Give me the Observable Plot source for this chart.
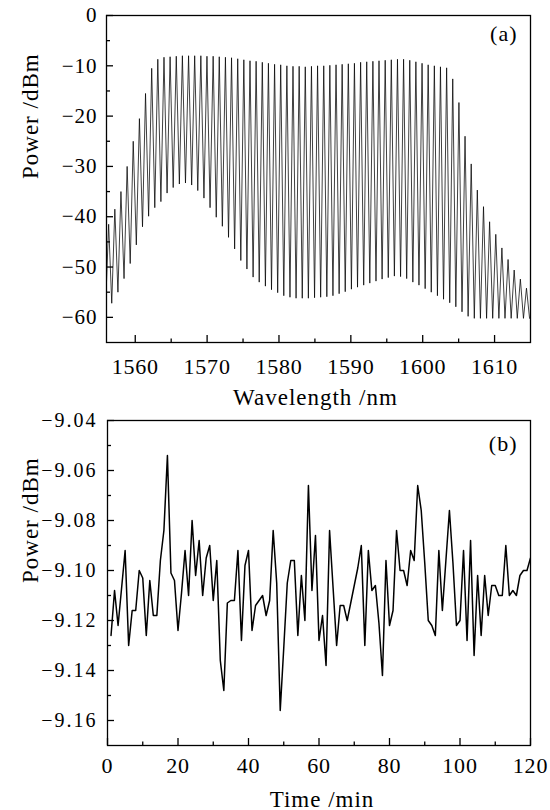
<!DOCTYPE html>
<html><head><meta charset="utf-8">
<script src="https://cdn.jsdelivr.net/npm/d3@7"></script>
<script src="https://cdn.jsdelivr.net/npm/@observablehq/plot@0.6"></script>
<style>
html,body{margin:0;padding:0;background:#fff;}
#chart{width:550px;height:810px;overflow:hidden;}
#chart svg{display:block;overflow:visible;}
</style></head><body><div id="chart"></div>
<script>
// ---------- Panel (a): comb spectrum ----------
const peakWl = [1556.30,1557.16,1558.01,1558.87,1559.72,1560.58,1561.43,1562.29,1563.14,1564.00,
  1564.85,1565.71,1566.56,1567.42,1568.27,1569.13,1569.98,1570.84,1571.69,1572.55,
  1573.40,1574.26,1575.11,1575.97,1576.82,1577.68,1578.53,1579.39,1580.24,1581.10,
  1581.95,1582.81,1583.66,1584.52,1585.37,1586.23,1587.08,1587.94,1588.79,1589.65,
  1590.50,1591.36,1592.21,1593.07,1593.92,1594.78,1595.63,1596.49,1597.34,1598.20,
  1599.05,1599.91,1600.76,1601.62,1602.47,1603.33,1604.18,1605.04,1605.89,1606.75,
  1607.60,1608.46,1609.31,1610.17,1611.02,1611.88,1612.73,1613.59,1614.44];
const peakDb = [-41.5,-38.5,-35,-30,-25,-20.5,-15.5,-10.5,-8.7,-8.3,
  -8.2,-8.1,-8.0,-8.0,-8.0,-8.0,-8.1,-8.1,-8.2,-8.3,
  -8.4,-8.6,-8.8,-9.0,-9.1,-9.3,-9.5,-9.7,-9.8,-10.0,
  -10.1,-10.1,-10.2,-10.1,-10.0,-10.0,-9.9,-9.8,-9.7,-9.6,
  -9.5,-9.3,-9.2,-9.1,-9.0,-8.9,-8.8,-8.7,-8.7,-8.9,
  -9.2,-9.5,-9.8,-10.0,-10.2,-10.4,-12.6,-17.3,-24,-29.5,
  -34.7,-38,-41,-43.5,-46.2,-48.5,-50.6,-52.4,-54.2];
const troughWl = [1555.87,1556.73,1557.59,1558.44,1559.30,1560.15,1561.01,1561.86,1562.72,1563.57,
  1564.43,1565.28,1566.14,1566.99,1567.85,1568.70,1569.56,1570.41,1571.27,1572.12,
  1572.98,1573.83,1574.69,1575.54,1576.40,1577.25,1578.11,1578.96,1579.82,1580.67,
  1581.53,1582.38,1583.24,1584.09,1584.95,1585.80,1586.66,1587.51,1588.37,1589.22,
  1590.08,1590.93,1591.79,1592.64,1593.50,1594.35,1595.21,1596.06,1596.92,1597.77,
  1598.63,1599.48,1600.34,1601.19,1602.05,1602.90,1603.76,1604.61,1605.47,1606.32,
  1607.18,1608.03,1608.89,1609.74,1610.60,1611.45,1612.31,1613.16,1614.02,1614.87];
const troughDb = [-58,-57.2,-55.0,-52.3,-49.3,-45.6,-42.0,-39.9,-38.2,-37.0,
  -35.3,-34.2,-33.5,-33.3,-33.7,-34.8,-36.3,-38.2,-40.1,-41.9,
  -44.1,-46.4,-48.7,-50.4,-52.0,-53.0,-53.8,-54.5,-55.1,-55.7,
  -56.0,-56.2,-56.2,-56.2,-56.1,-56.0,-55.9,-55.7,-55.3,-54.9,
  -54.4,-54.0,-53.6,-53.2,-52.8,-52.4,-52.1,-51.8,-51.9,-52.3,
  -53.0,-53.6,-54.3,-55.0,-55.7,-56.4,-57.1,-57.9,-58.9,-59.8,
  -60.2,-60.2,-60.2,-60.2,-60.2,-60.2,-60.2,-60.2,-60.2,-60.2];
const xMajorA = [1560,1570,1580,1590,1600,1610];
const xMinorA = [1565,1575,1585,1595,1605];
const yMajorA = [0,-10,-20,-30,-40,-50,-60];
const yMinorA = [-5,-15,-25,-35,-45,-55];

// ---------- Panel (b): power stability ----------
const timeMin = [1,2,3,4,5,6,7,8,9,10,11,12,13,14,15,16,17,18,19,20,
  21,22,23,24,25,26,27,28,29,30,31,32,33,34,35,36,37,38,39,40,
  41,42,43,44,45,46,47,48,49,50,51,52,53,54,55,56,57,58,59,60,
  61,62,63,64,65,66,67,68,69,70,71,72,73,74,75,76,77,78,79,80,
  81,82,83,84,85,86,87,88,89,90,91,92,93,94,95,96,97,98,99,100,
  101,102,103,104,105,106,107,108,109,110,111,112,113,114,115,116,117,118,119,120];
const powerB = [-9.126,-9.108,-9.122,-9.107,-9.092,-9.130,-9.116,-9.116,-9.100,-9.103,
  -9.126,-9.104,-9.118,-9.118,-9.096,-9.084,-9.054,-9.101,-9.104,-9.124,
  -9.109,-9.092,-9.110,-9.080,-9.102,-9.088,-9.110,-9.095,-9.090,-9.112,
  -9.096,-9.136,-9.148,-9.113,-9.112,-9.112,-9.092,-9.128,-9.098,-9.092,
  -9.124,-9.114,-9.112,-9.110,-9.118,-9.112,-9.084,-9.105,-9.156,-9.131,
  -9.105,-9.096,-9.096,-9.126,-9.102,-9.120,-9.066,-9.108,-9.086,-9.128,
  -9.118,-9.138,-9.084,-9.107,-9.130,-9.114,-9.114,-9.120,-9.113,-9.106,
  -9.099,-9.090,-9.130,-9.092,-9.108,-9.106,-9.121,-9.142,-9.096,-9.122,
  -9.116,-9.084,-9.100,-9.100,-9.106,-9.092,-9.096,-9.066,-9.076,-9.097,
  -9.120,-9.122,-9.126,-9.092,-9.116,-9.096,-9.076,-9.097,-9.122,-9.120,
  -9.092,-9.128,-9.088,-9.134,-9.102,-9.126,-9.102,-9.118,-9.106,-9.106,
  -9.110,-9.110,-9.090,-9.110,-9.108,-9.110,-9.102,-9.100,-9.100,-9.095];
const xMajorB = [0,20,40,60,80,100,120];
const xMinorB = [10,30,50,70,90,110];
const yMajorB = [-9.04,-9.06,-9.08,-9.10,-9.12,-9.14,-9.16];
const yMinorB = [-9.05,-9.07,-9.09,-9.11,-9.13,-9.15];

// ---------- layout ----------
const W = 550;
const A = {h: 412, ml: 106, mr: 20, mt: 15, mb: 70};
const B = {h: 398, ml: 107, mr: 20, mt: 8, mb: 65};
const serif = '"Liberation Serif", "Times New Roman", Times, serif';
const minus = d => d < 0 ? "\u2212" + Math.abs(d) : String(d);
const minus2 = d => "\u2212" + Math.abs(d).toFixed(2);
const tickStyle = {stroke: "black", strokeWidth: 1.3};

const spectrum = [];
for (let i = 0; i < troughWl.length; i++) {
  spectrum.push({wl: troughWl[i], db: troughDb[i]});
  if (i < peakWl.length) spectrum.push({wl: peakWl[i], db: peakDb[i]});
}
const series = timeMin.map((t, i) => ({t, p: powerB[i]}));

function panel(cfg, o) {
  const fw = W - cfg.ml - cfg.mr, fh = cfg.h - cfg.mt - cfg.mb;
  return Plot.plot({
    width: W, height: cfg.h,
    marginLeft: cfg.ml, marginRight: cfg.mr, marginTop: cfg.mt, marginBottom: cfg.mb,
    x: {domain: o.xDomain},
    y: {domain: o.yDomain},
    style: {fontFamily: serif, color: "black", background: "white", overflow: "visible"},
    marks: [
      o.line,
      Plot.tickX(o.xMajor, {x: d => d, insetTop: fh - 7, ...tickStyle}),
      Plot.tickX(o.xMinor, {x: d => d, insetTop: fh - 3.5, ...tickStyle}),
      Plot.tickY(o.yMajor, {y: d => d, insetRight: fw - 7, ...tickStyle}),
      Plot.tickY(o.yMinor, {y: d => d, insetRight: fw - 4, ...tickStyle}),
      Plot.axisX(o.xMajor, {anchor: "bottom", tickSize: 0, tickPadding: o.xPad, fontSize: 22, label: null, tickFormat: d => String(d)}),
      Plot.axisY(o.yMajor, {anchor: "left", tickSize: 0, tickPadding: o.yPad, fontSize: o.yFont, label: null, tickFormat: o.yFormat}),
      Plot.frame({stroke: "black", strokeWidth: 1.3}),
      Plot.text([o.tag], {frameAnchor: "top-right", dx: -13, dy: o.tagDy, textAnchor: "end", lineAnchor: "middle", fontSize: 22}),
      Plot.text([o.xTitle], {frameAnchor: "bottom", dx: o.xTitleDx, dy: o.xTitleDy, lineAnchor: "bottom", fontSize: 23}),
      Plot.text(["Power /dBm"], {frameAnchor: "left", dx: o.yTitleDx, rotate: -90, lineAnchor: "bottom", fontSize: 23})
    ]
  });
}

const plotA = panel(A, {
  xDomain: [1556, 1615], yDomain: [-65, 0],
  line: Plot.line(spectrum, {x: "wl", y: "db", stroke: "black", strokeWidth: 0.75, clip: true}),
  xMajor: xMajorA, xMinor: xMinorA, yMajor: yMajorA, yMinor: yMinorA,
  xPad: 16, yPad: 9, yFont: 21, yFormat: minus,
  tag: "(a)", tagDy: 18,
  xTitle: "Wavelength /nm", xTitleDx: -3, xTitleDy: 62, yTitleDx: -69
});
const plotB = panel(B, {
  xDomain: [0, 120], yDomain: [-9.17, -9.04],
  line: Plot.line(series, {x: "t", y: "p", stroke: "black", strokeWidth: 1.5, clip: true}),
  xMajor: xMajorB, xMinor: xMinorB, yMajor: yMajorB, yMinor: yMinorB,
  xPad: 12, yPad: 10, yFont: 20, yFormat: minus2,
  tag: "(b)", tagDy: 23,
  xTitle: "Time /min", xTitleDx: 3, xTitleDy: 61, yTitleDx: -70
});

for (const p of [plotA, plotB]) {
  const s = d3.select(p);
  s.selectAll('g[aria-label="x-axis tick label"] text').style("letter-spacing", "0.8px");
  s.selectAll('g[aria-label="text"] text').style("letter-spacing", "1px");
}
d3.select(plotB).selectAll('g[aria-label="y-axis tick label"] text').style("letter-spacing", "2px");
d3.select(plotA).selectAll('g[aria-label="y-axis tick label"] text').style("letter-spacing", "1px");

document.getElementById("chart").append(plotA, plotB);
</script></body></html>
